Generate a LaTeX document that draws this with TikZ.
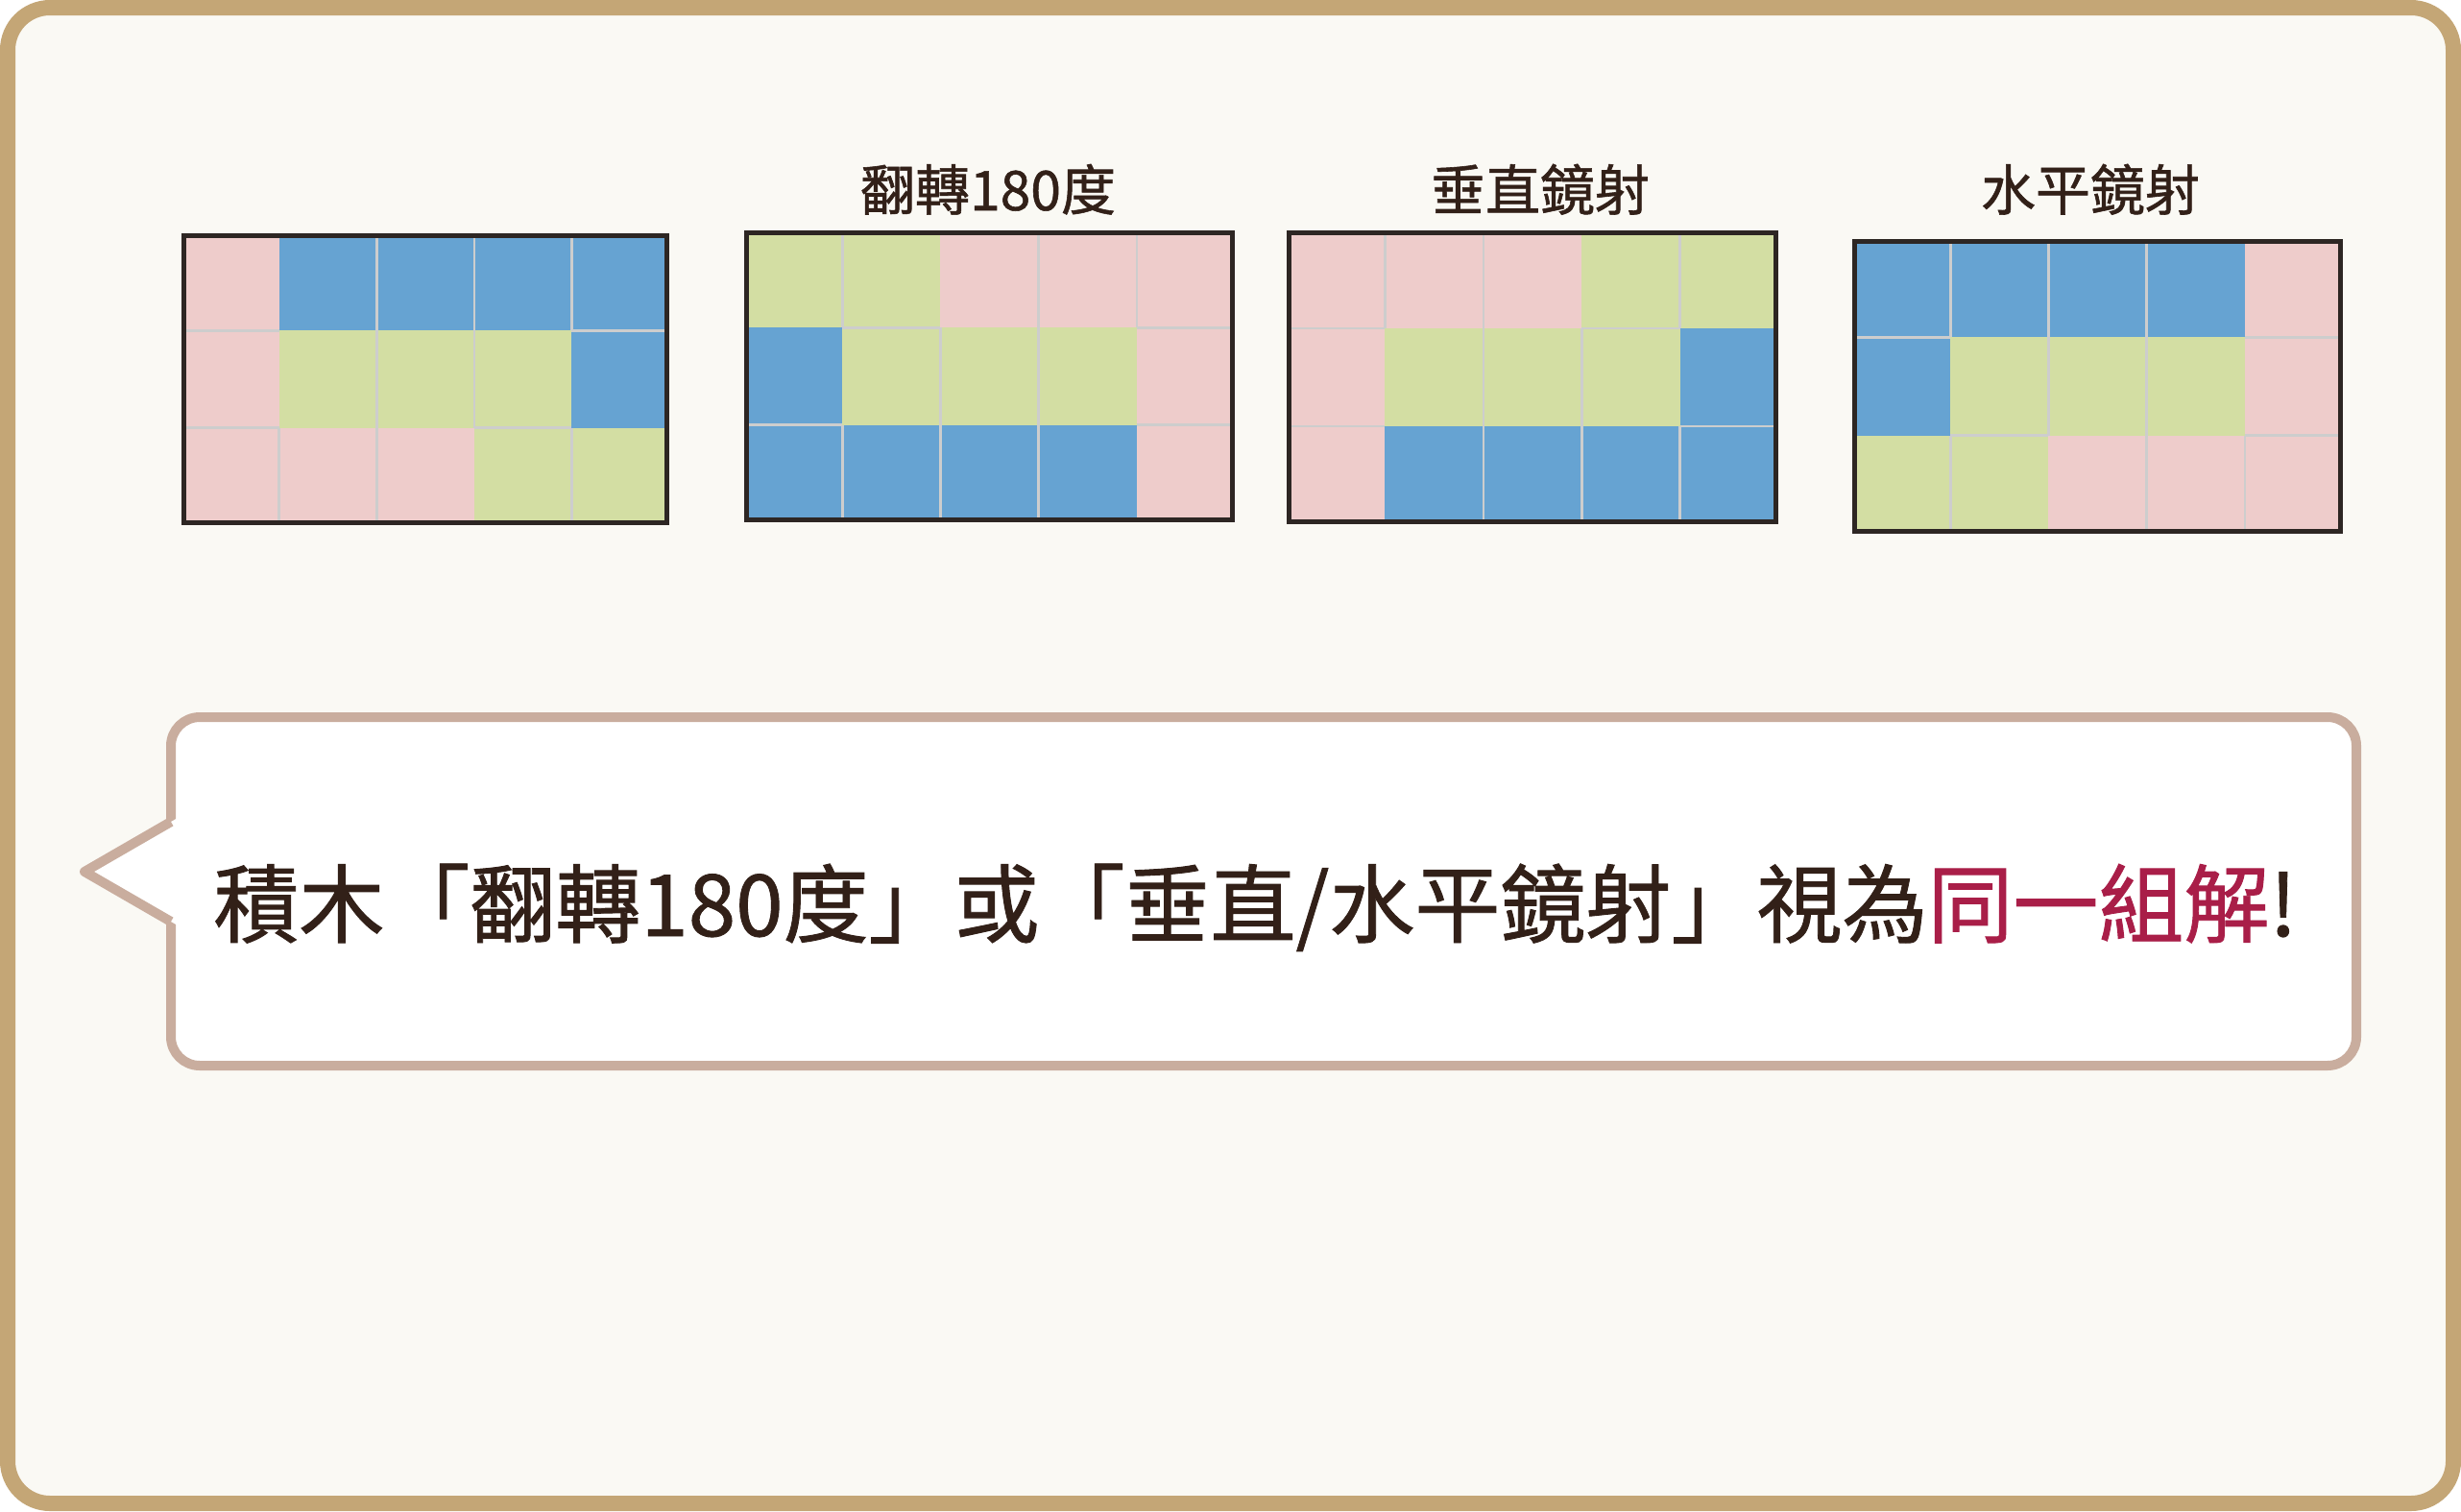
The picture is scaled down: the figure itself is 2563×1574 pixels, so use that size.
\documentclass[tikz,border=0pt]{standalone}
\usepackage{fontspec}
\newfontfamily\cjk[FakeBold=1]{Noto Sans CJK TC}
\definecolor{framebrown}{RGB}{196,166,118}
\definecolor{paper}{RGB}{250,249,244}
\definecolor{calloutline}{RGB}{201,173,158}
\definecolor{inkdark}{RGB}{50,32,24}
\definecolor{accent}{RGB}{169,30,72}
\definecolor{cellc1}{RGB}{238,204,203}
\definecolor{cellc2}{RGB}{102,163,210}
\definecolor{cellc3}{RGB}{211,222,163}
\definecolor{gridline}{RGB}{205,205,205}
\definecolor{gridborder}{RGB}{45,38,35}
\tikzset{
  sepline/.style={gridline, line width=1.3pt},
  gridframe/.style={gridborder, line width=2.5pt},
  titletext/.style={anchor=base, inner sep=0pt, text=inkdark, font=\cjk\fontsize{28.5pt}{34pt}\selectfont},
}
\newcommand\puzzlegrid[5]{%
  \pgfmathsetmacro\gcw{#3/5}%
  \pgfmathsetmacro\gch{#4/3}%
  \def\garr{#5}%
  \foreach \r in {0,1,2}{
    \foreach \c in {0,...,4}{
      \pgfmathtruncatemacro\gidx{\r*5+\c}
      \pgfmathtruncatemacro\gv{\garr[\gidx]}
      \fill[cellc\gv] ({#1+\c*\gcw},{#2+\r*\gch}) rectangle ({#1+(\c+1)*\gcw},{#2+(\r+1)*\gch});
    }
  }
  \foreach \r in {0,1,2}{
    \foreach \c in {0,...,3}{
      \pgfmathtruncatemacro\gidx{\r*5+\c}
      \pgfmathtruncatemacro\gsame{\garr[\gidx]==\garr[\gidx+1]}
      \ifnum\gsame=1 \draw[sepline] ({#1+(\c+1)*\gcw},{#2+\r*\gch}) -- ({#1+(\c+1)*\gcw},{#2+(\r+1)*\gch}); \fi
    }
  }
  \foreach \r in {0,1}{
    \foreach \c in {0,...,4}{
      \pgfmathtruncatemacro\gidx{\r*5+\c}
      \pgfmathtruncatemacro\gsame{\garr[\gidx]==\garr[\gidx+5]}
      \ifnum\gsame=1 \draw[sepline] ({#1+\c*\gcw},{#2+(\r+1)*\gch}) -- ({#1+(\c+1)*\gcw},{#2+(\r+1)*\gch}); \fi
    }
  }
  \draw[gridframe] ({#1+2.5},{#2+2.5}) rectangle ({#1+#3-2.5},{#2+#4-2.5});
}
\begin{document}
\begin{tikzpicture}[x=0.5pt,y=-0.5pt]
\useasboundingbox (0,0) rectangle (2563,1574);
\fill[white] (0,0) rectangle (2563,1574);
\draw[framebrown, line width=8pt, fill=paper, rounded corners=22pt] (8,8) rectangle (2555,1566);

% grids
\puzzlegrid{189}{243}{508}{304}{{1,2,2,2,2,1,3,3,3,2,1,1,1,3,3}}
\puzzlegrid{775}{240}{511}{304}{{3,3,1,1,1,2,3,3,3,1,2,2,2,2,1}}
\puzzlegrid{1340}{240}{512}{306}{{1,1,1,3,3,1,3,3,3,2,1,2,2,2,2}}
\puzzlegrid{1929}{249}{511}{307}{{2,2,2,2,1,2,3,3,3,1,3,3,1,1,1}}

% titles
\node[titletext] (t180) at (1029,219) {翻轉180度};
\node[titletext] (tvert) at (1604,219) {垂直鏡射};
\node[titletext] (thori) at (2177,219) {水平鏡射};

% callout
\draw[calloutline, line width=5pt, fill=white, rounded corners=15pt] (178,747) rectangle (2454,1110);
\fill[white] (185,852) -- (88,908) -- (185,964) -- cycle;
\draw[calloutline, line width=5pt, line join=round] (178,856) -- (88,908) -- (178,960);

\node[anchor=base west, inner sep=0pt, text=inkdark, font=\cjk\fontsize{44.5pt}{54pt}\selectfont] (msg) at (222,975) {積木「翻轉180度」或「垂直/水平鏡射」視為\textcolor{accent}{同一組解}!};
\end{tikzpicture}
\end{document}
